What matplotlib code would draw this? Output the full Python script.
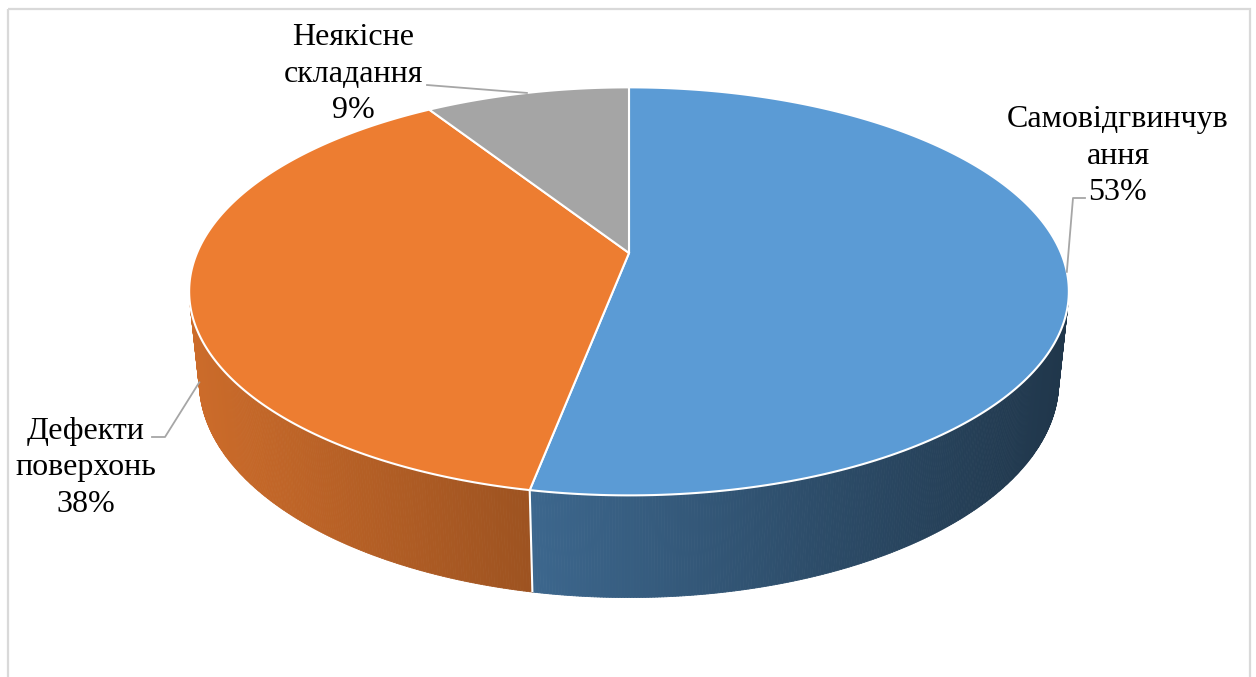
import numpy as np
import matplotlib.pyplot as plt
from matplotlib.patches import Polygon, Rectangle
from matplotlib.collections import PolyCollection
from matplotlib.colors import to_rgb

# data
labels = ['Самовідгвинчув\nання', 'Дефекти\nповерхонь', 'Неякісне\nскладання']
shares = [53, 38, 9]
colors = ['#5b9bd5', '#ed7d31', '#a5a5a5']

# label boxes (centre, pixels) and elbow of leader line
label_pos = [(1118, 156), (86, 468), (353, 74)]
leader_elbow = [[(1085, 198), (1073, 198)], [(152, 437), (165, 437)], [(427, 85)]]

# 3d pie geometry (pixels)
cx, cy = 629, 253
R = 432
tilt = np.radians(27.1)
dist = 2045
depth = 102


def proj(theta, z=0.0):
    th = np.radians(theta)
    X = R * np.sin(th)
    Y = R * np.cos(th)
    u = Y * np.sin(tilt) + z * np.cos(tilt)
    d = Y * np.cos(tilt) - z * np.sin(tilt)
    s = dist / (dist + d)
    return cx + X * s, cy - u * s


def shade(x):
    # side lighting, brighter on the left
    t = (x - 190) / (1069 - 190)
    return np.clip(0.86 - 0.51 * t, 0.3, 1)


fig = plt.figure(figsize=(12.56, 6.77), dpi=100)
ax = fig.add_axes([0, 0, 1, 1])

# visible part of the side wall
lim = np.degrees(np.arccos(-R / (dist * np.cos(tilt))))
vis_lo, vis_hi = lim, 360 - lim

bounds = np.concatenate([[0], np.cumsum(shares)]) / sum(shares) * 360

# side walls
for i, col in enumerate(colors):
    a, b = max(bounds[i], vis_lo), min(bounds[i + 1], vis_hi)
    if a >= b:
        continue
    th = np.linspace(a, b, int((b - a) * 3) + 2)
    xt, yt = proj(th)
    xb, yb = proj(th, -depth)
    quads, fcs = [], []
    base = np.array(to_rgb(col))
    for j in range(len(th) - 1):
        quads.append([(xt[j], yt[j]), (xt[j + 1], yt[j + 1]),
                      (xb[j + 1], yb[j + 1]), (xb[j], yb[j])])
        xm = (xt[j] + xt[j + 1]) / 2
        fcs.append(base * shade(xm))
    ax.add_collection(PolyCollection(quads, facecolors=fcs, edgecolors=fcs, linewidths=0.6))

# slice borders on the wall
for b in bounds[1:-1]:
    if vis_lo < b < vis_hi:
        x0, y0 = proj(b)
        x1, y1 = proj(b, -depth)
        ax.plot([x0, x1], [y0, y1], color='white', lw=1.5, solid_capstyle='butt')

# top faces
for i, col in enumerate(colors):
    th = np.linspace(bounds[i], bounds[i + 1], 200)
    xs, ys = proj(th)
    pts = np.column_stack([np.r_[cx, xs], np.r_[cy, ys]])
    ax.add_patch(Polygon(pts, closed=True, facecolor=col, edgecolor='white',
                         lw=1.5, joinstyle='miter'))

# labels and leader lines
for i, lab in enumerate(labels):
    mid = (bounds[i] + bounds[i + 1]) / 2
    if np.cos(np.radians(mid)) < -0.15:
        ax_, ay_ = proj(mid, -depth)
    else:
        ax_, ay_ = proj(mid)
    pts = leader_elbow[i] + [(ax_, ay_)]
    ax.plot([p[0] for p in pts], [p[1] for p in pts], color='#a6a6a6', lw=1.3)
    ax.text(label_pos[i][0], label_pos[i][1], f'{lab}\n{shares[i]}%',
            ha='center', va='center', multialignment='center',
            family='Liberation Serif', fontsize=23, color='black', linespacing=1.33)

# chart frame
ax.add_patch(Rectangle((8, 9), 1242, 700, facecolor='none', edgecolor='#d9d9d9', lw=1.6))

ax.set_xlim(0, 1256)
ax.set_ylim(677, 0)
ax.axis('off')
fig.savefig('out.png', dpi=100)
